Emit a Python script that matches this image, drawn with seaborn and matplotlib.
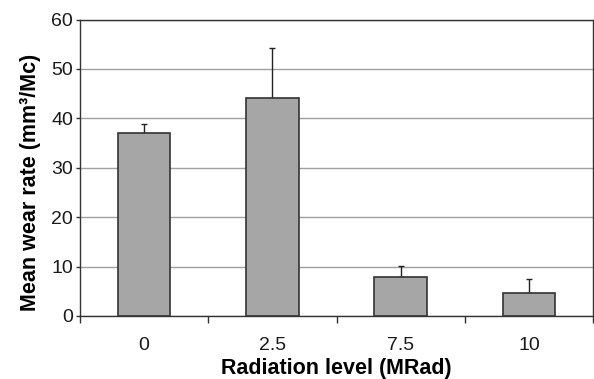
import numpy as np
import pandas as pd
import seaborn as sns
import matplotlib.pyplot as plt

# values
levels = ['0', '2.5', '7.5', '10']
mean_wear = [37.0, 44.1, 7.8, 4.7]
err_upper = [1.9, 10.1, 2.4, 2.7]

df = pd.DataFrame({'level': levels, 'wear': mean_wear})

sns.set_style('white')
plt.rcParams['font.family'] = ['Liberation Sans', 'DejaVu Sans']
plt.rcParams['text.color'] = 'black'
plt.rcParams['axes.labelcolor'] = 'black'
plt.rcParams['xtick.labelcolor'] = '#1a1a1a'
plt.rcParams['ytick.labelcolor'] = '#1a1a1a'

fig = plt.figure(figsize=(5.94, 3.79), dpi=100)
ax = fig.add_axes([80 / 594, 63 / 379, 513 / 594, 296.5 / 379])

sns.barplot(data=df, x='level', y='wear', color='#a6a6a6', saturation=1,
            edgecolor='#333333', linewidth=1.2, width=0.41, ax=ax, zorder=3)
ax.errorbar(np.arange(len(levels)), mean_wear,
            yerr=[np.zeros(len(levels)), err_upper],
            fmt='none', ecolor='#222222', elinewidth=1, capsize=2.5,
            capthick=1, zorder=2)

ax.set_xlim(-0.5, 3.5)
ax.set_ylim(0, 60)
ax.set_yticks(range(0, 61, 10))
ax.yaxis.grid(True, color='#a0a0a0', linewidth=1)
ax.set_axisbelow(True)

# ticks between categories, labels at centers
ax.set_xticks(np.arange(-0.5, 3.6, 1), minor=True)
ax.tick_params(axis='x', which='major', length=0, pad=15, labelsize=14)
ax.tick_params(axis='x', which='minor', length=5, width=1, color='#333333',
               direction='out', bottom=True)
ax.tick_params(axis='y', length=3, width=1, color='#333333', direction='out',
               left=True, labelsize=14, pad=2)

for s in ax.spines.values():
    s.set_color('#333333')
    s.set_linewidth(1)

ax.set_xlabel('Radiation level (MRad)', fontsize=15.5, fontweight='bold',
              labelpad=3)
ax.set_ylabel('Mean wear rate (mm³/Mc)', fontsize=15.5, fontweight='bold')
ax.yaxis.set_label_coords(-0.076, 0.45)

fig.savefig('out.png', dpi=100)
